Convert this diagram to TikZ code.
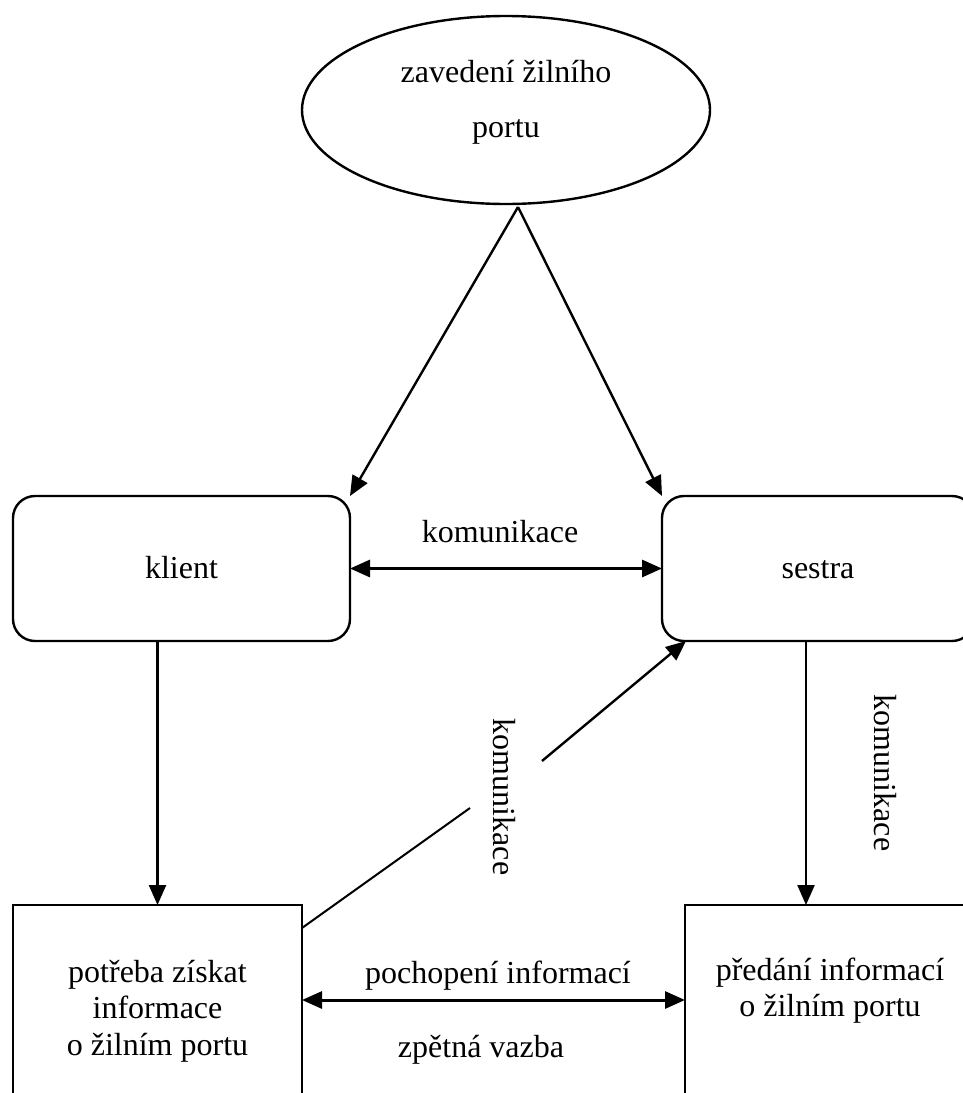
\documentclass[tikz,border=0pt]{standalone}
\usepackage{fontspec}
\setmainfont{Liberation Serif}
\usetikzlibrary{arrows.meta,shapes.geometric,calc}
\begin{document}
\begin{tikzpicture}[x=1pt,y=-1pt,
  txt/.style={font=\fontsize{32}{36.5}\selectfont, inner sep=0pt},
  box/.style={draw, line width=2.4pt, inner sep=0pt, outer sep=0pt},
  rbox/.style={box, rounded corners=22pt, font=\fontsize{32}{36.5}\selectfont,
    text height=20pt, text depth=0pt},
  tip/.tip={Triangle[length=20pt,width=17pt]},
  arr/.style={line width=2.4pt, -tip},
  darr/.style={line width=3pt, tip-tip},
  ]
\useasboundingbox (0,0) rectangle (963,1093);
\clip (0,0) rectangle (963,1093);

% starting event
\node[box, ellipse, minimum width=408pt, minimum height=188pt] (port) at (506,110) {};
\node[txt, anchor=base, font=\fontsize{32}{55}\selectfont] (porttxt) at (506,82)
  {\begin{tabular}[t]{@{}c@{}}zavedení žilního\\ portu\end{tabular}};

% participants
\node[rbox, minimum width=337pt, minimum height=145pt] (klient) at (181.5,568.5) {klient};
\node[rbox, minimum width=312pt, minimum height=145pt] (sestra) at (818,568.5) {sestra};

% outcomes
\node[box, minimum width=289pt, minimum height=215pt] (need) at (157.5,1012.5) {};
\node[txt, anchor=base] (needtxt) at (157.5,982)
  {\begin{tabular}[t]{@{}c@{}}potřeba získat\\ informace\\ o žilním portu\end{tabular}};
\node[box, minimum width=290pt, minimum height=215pt] (give) at (830,1012.5) {};
\node[txt, anchor=base] (givetxt) at (830,980)
  {\begin{tabular}[t]{@{}c@{}}předání informací\\ o žilním portu\end{tabular}};

% connector labels
\node[txt, anchor=base] (lbltop) at (500,542) {komunikace};
\node[txt, rotate=-90] (lblmid) at (504,797) {komunikace};
\node[txt, rotate=-90] (lblright) at (885,773) {komunikace};
\node[txt, anchor=base] (lblunder) at (498,983) {pochopení informací};
\node[txt, anchor=base] (lblfeed) at (481,1057) {zpětná vazba};

% connectors
\coordinate (fork) at (518,207);
\draw[arr] (fork) -- (klient.north east);
\draw[arr] (fork) -- (sestra.north west);
\draw[darr] (klient.east) -- (sestra.west);
\draw[arr] (klient.south -| need.north) -- (need.north);
\coordinate (sdown) at (806,0);
\draw[arr] (sestra.south -| sdown) -- (give.north -| sdown);
\coordinate (fb) at (0,1000);
\draw[darr] (need.east |- fb) -- (give.west |- fb);
\coordinate (gapA) at (470,808);
\coordinate (gapB) at (542,761);
\draw[line width=2pt] ([yshift=-23pt]need.north east) -- (gapA);
\draw[arr] (gapB) -- ([xshift=24pt]sestra.south west);
\end{tikzpicture}
\end{document}
